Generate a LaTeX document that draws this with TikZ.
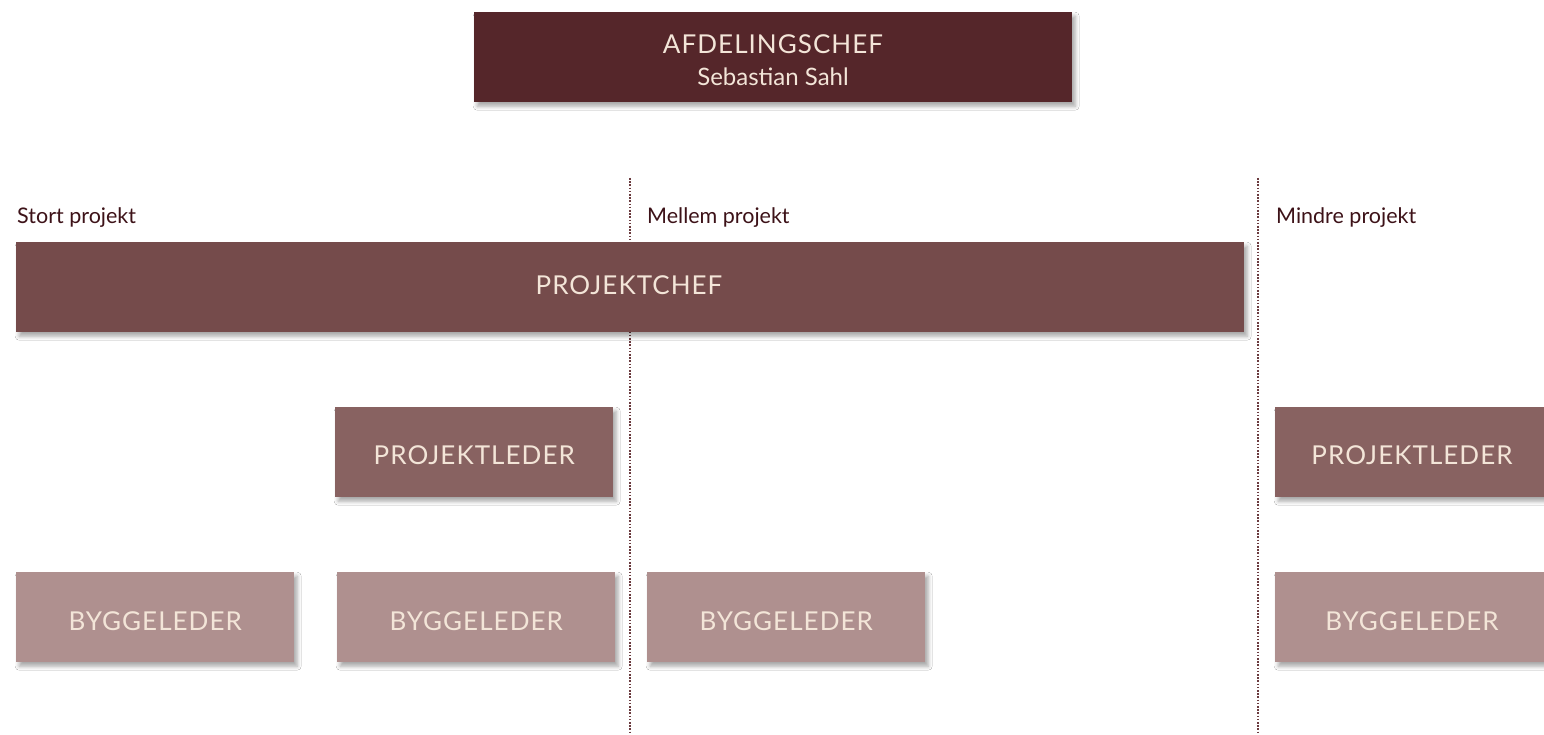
\documentclass[tikz,border=0pt]{standalone}
\usepackage{fontspec}
\setmainfont{Lato}
\newfontfamily\capsfont[LetterSpace=4]{Lato}
\usetikzlibrary{shadows.blur}
\definecolor{cTop}{HTML}{55262A}
\definecolor{cChef}{HTML}{754B4B}
\definecolor{cLeder}{HTML}{886261}
\definecolor{cBygg}{HTML}{AF908F}
\definecolor{cText}{HTML}{F3E5D8}
\definecolor{cLabel}{HTML}{3D1218}
\definecolor{cDots}{HTML}{6B3B3F}
\tikzset{
  orgbox/.style={rectangle, inner sep=0pt, anchor=north west,
    blur shadow={shadow xshift=3pt, shadow yshift=-4pt, shadow blur radius=4pt, shadow opacity=35}},
  boxtext/.style={text=cText, inner sep=0pt, font=\capsfont\fontsize{26}{30}\selectfont},
  seclabel/.style={anchor=base west, inner sep=0pt, text=cLabel, font=\fontsize{21.5}{25}\selectfont},
  divider/.style={draw=cDots, line width=1.6pt, dash pattern=on 1.6pt off 1.6pt},
}
\begin{document}
\begin{tikzpicture}[x=1pt,y=-1pt]
\useasboundingbox[fill=white] (0,0) rectangle (1544,735);
% dividers
\coordinate (d1t) at (630,178); \coordinate (d1b) at (630,733);
\coordinate (d2t) at (1258,178); \coordinate (d2b) at (1258,733);
\draw[divider] (d1t) -- (d1b);
\draw[divider] (d2t) -- (d2b);
% top
\node[orgbox, fill=cTop, minimum width=598pt, minimum height=90pt] (afd) at (474,12) {};
\node[boxtext] (afdt) at (773,44) {AFDELINGSCHEF};
\node[text=cText, font=\fontsize{24}{28}\selectfont, inner sep=0pt, anchor=base] (afdn) at (773,86) {Sebastian Sahl};
% section labels
\node[seclabel] (l1) at (17,224) {Stort projekt};
\node[seclabel] (l2) at (647,224) {Mellem projekt};
\node[seclabel] (l3) at (1276,224) {Mindre projekt};
% boxes
\node[orgbox, fill=cChef, minimum width=1228pt, minimum height=90pt] (chef) at (16,242) {};
\node[boxtext] (chefT) at (629,285) {PROJEKTCHEF};
\node[orgbox, fill=cLeder, minimum width=278pt, minimum height=90pt] (pl1) at (335,407) {};
\node[boxtext] (pl1T) at ([yshift=-3pt]pl1.center) {PROJEKTLEDER};
\node[orgbox, fill=cLeder, minimum width=280pt, minimum height=90pt] (pl2) at (1275,407) {};
\node[boxtext] (pl2T) at (1412,455) {PROJEKTLEDER};
\foreach \n/\x in {b1/16, b2/337, b3/647}{
  \node[orgbox, fill=cBygg, minimum width=278pt, minimum height=90pt] (\n) at (\x,572) {};
  \node[boxtext] (\n T) at ([yshift=-4pt]\n.center) {BYGGELEDER};
}
\node[orgbox, fill=cBygg, minimum width=280pt, minimum height=90pt] (b4) at (1275,572) {};
\node[boxtext] (b4T) at (1412,621) {BYGGELEDER};
\end{tikzpicture}
\end{document}
